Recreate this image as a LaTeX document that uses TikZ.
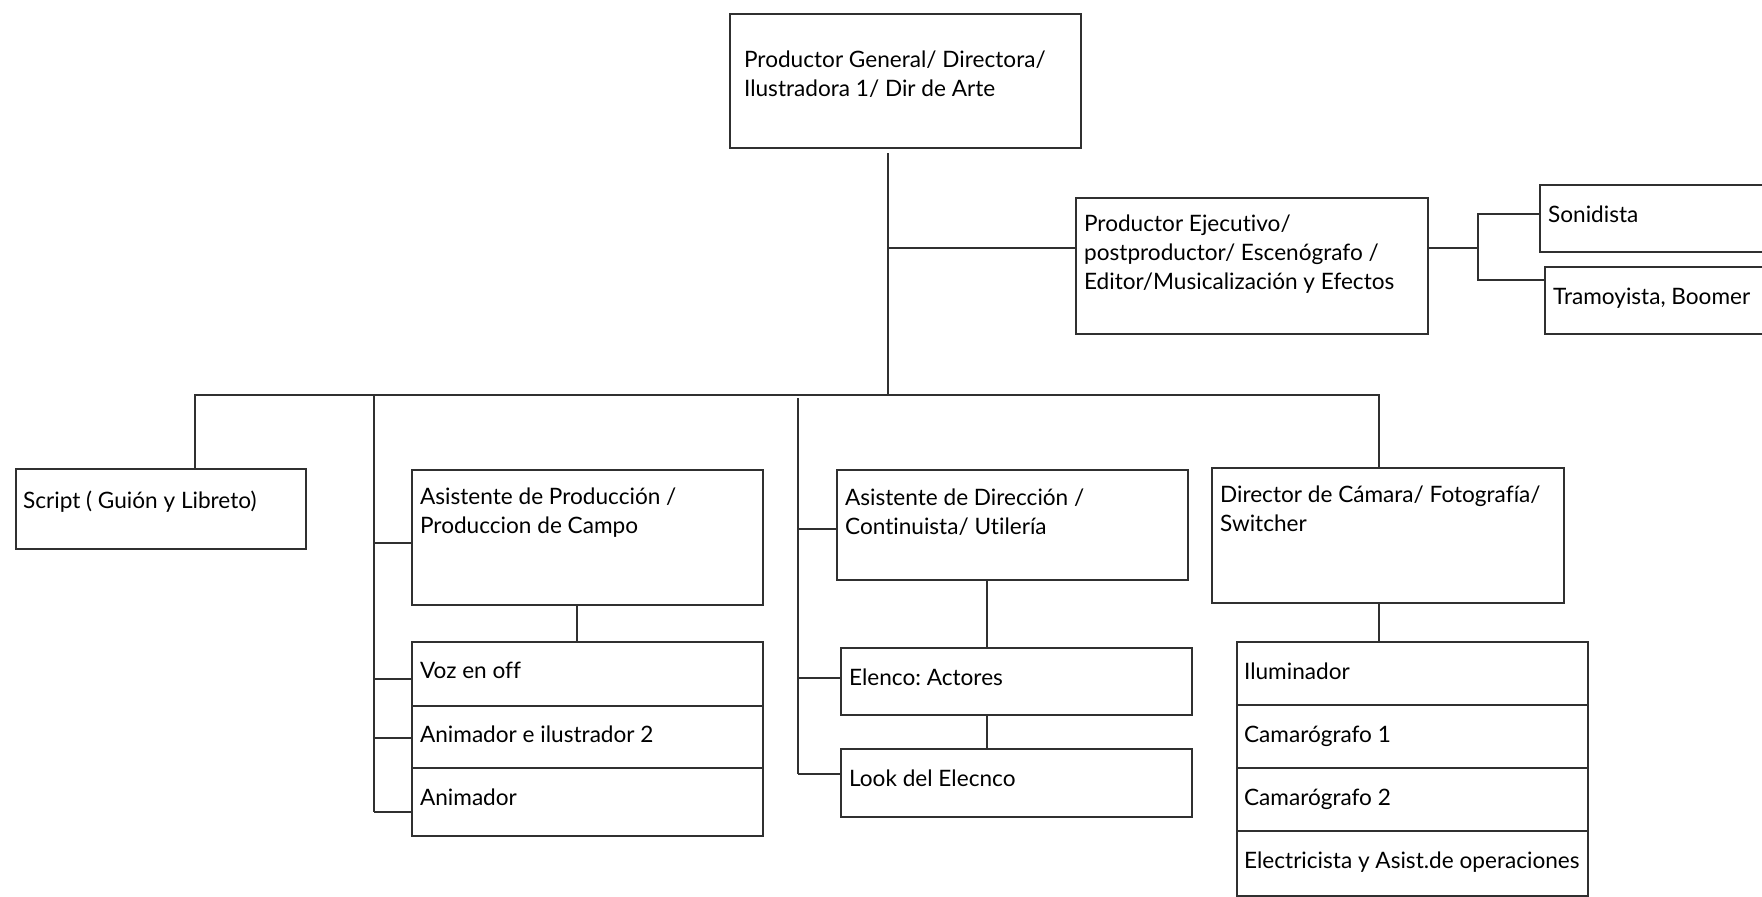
\documentclass[tikz,border=0pt]{standalone}
\usepackage{fontspec}
\setmainfont{Lato}[Ligatures=NoCommon]
\usetikzlibrary{positioning}
\definecolor{linegray}{HTML}{303030}
\frenchspacing

\begin{document}
\begin{tikzpicture}[x=0.5pt,y=-0.5pt,line width=1.1pt,color=linegray,
    unit/.style={draw,rectangle,inner sep=0pt,anchor=north west},
    lbl/.style={inner sep=0pt,align=left,text=black,
      font=\fontsize{11.3}{14.5}\selectfont,execute at begin node=\strut}]
  \path[use as bounding box,clip] (0,0) rectangle (1762,896);

  % top level
  \node[unit,minimum width=175.5pt,minimum height=67pt] (prod) at (729,13) {};
  \node[lbl,below right=18.35pt and 7pt of prod.north west] (prod-t)
    {Productor General/ Directora/\\Ilustradora 1/ Dir de Arte};

  \node[unit,minimum width=176pt,minimum height=68pt] (exec) at (1075,197) {};
  \node[lbl,below right=8.6pt and 4pt of exec.north west] (exec-t)
    {Productor Ejecutivo/\\postproductor/ Escenógrafo /\\Editor/Musicalización y Efectos};

  \node[unit,minimum width=118pt,minimum height=33.5pt] (son) at (1539,184) {};
  \node[lbl,below right=8.6pt and 4pt of son.north west] (son-t) {Sonidista};
  \node[unit,minimum width=115.5pt,minimum height=33.5pt] (tram) at (1544,266) {};
  \node[lbl,below right=8.6pt and 4pt of tram.north west] (tram-t) {Tramoyista, Boomer};

  % second level
  \node[unit,minimum width=145pt,minimum height=40pt] (script) at (15,468) {};
  \node[lbl,below right=9.6pt and 3.5pt of script.north west] (script-t) {Script ( Guión y Libreto)};

  \node[unit,minimum width=175.5pt,minimum height=67.5pt] (asp) at (411,469) {};
  \node[lbl,below right=9pt and 4pt of asp.north west] (asp-t)
    {Asistente de Producción /\\Produccion de Campo};
  \node[unit,minimum width=175.5pt,minimum height=32pt] (voz) at (411,641) {};
  \node[unit,minimum width=175.5pt,minimum height=31pt] (anim2) at (411,705) {};
  \node[unit,minimum width=175.5pt,minimum height=34pt] (anim) at (411,767) {};
  \node[lbl,below right=7.9pt and 4pt of voz.north west] (voz-t) {Voz en off};
  \node[lbl,below right=7.9pt and 4pt of anim2.north west] (anim2-t) {Animador e ilustrador 2};
  \node[lbl,below right=8.4pt and 4pt of anim.north west] (anim-t) {Animador};

  \node[unit,minimum width=175.5pt,minimum height=55pt] (asd) at (836,469) {};
  \node[lbl,below right=9.3pt and 4pt of asd.north west] (asd-t)
    {Asistente de Dirección /\\Continuista/ Utilería};
  \node[unit,minimum width=175.5pt,minimum height=33.5pt] (elenco) at (840,647) {};
  \node[lbl,below right=8.4pt and 4pt of elenco.north west] (elenco-t) {Elenco: Actores};
  \node[unit,minimum width=175.5pt,minimum height=34pt] (look) at (840,748) {};
  \node[lbl,below right=8.4pt and 4pt of look.north west] (look-t) {Look del Elecnco};

  \node[unit,minimum width=176pt,minimum height=67.5pt] (dircam) at (1211,467) {};
  \node[lbl,below right=8.9pt and 4pt of dircam.north west] (dircam-t)
    {Director de Cámara/ Fotografía/\\Switcher};
  \foreach \n/\y/\h/\t in {ilum/641/31.5/Iluminador,cam1/704/31.5/Camarógrafo 1,
      cam2/767/31.5/Camarógrafo 2,elec/830/32.5/Electricista y Asist.de operaciones}{
    \node[unit,minimum width=175.5pt,minimum height=\h pt] (\n) at (1236,\y) {};
    \node[lbl,below right=8.6pt and 3.5pt of \n.north west] (\n-t) {\t};
  }

  % connectors
  \coordinate (jtop) at (888,153);
  \coordinate (jexec) at (888,248);
  \coordinate (jbus) at (888,395);
  \coordinate (busL) at (195,395);
  \coordinate (busR) at (1379,395);
  \draw (jtop) -- (jbus);
  \draw (jexec) -- (jexec -| exec.west);
  \draw (busL |- script.north) -- (busL) -- (busR) -- (busR |- dircam.north);
  \draw (busR |- dircam.south) -- (busR |- ilum.north);

  \coordinate (json) at (1478,248);
  \coordinate (jsonA) at (1478,214);
  \coordinate (jsonB) at (1478,280);
  \draw (json -| exec.east) -- (json);
  \draw (jsonA -| son.west) -- (jsonA) -- (jsonB) -- (jsonB -| tram.west);

  \coordinate (colP) at (374,396);
  \coordinate (colPend) at (374,812);
  \draw (colP) -- (colPend);
  \foreach \y/\n in {543/asp,679/voz,738/anim2,812/anim}
    \draw (374,\y) coordinate (cp) -- (cp -| \n.west);
  \coordinate (jasp) at (577,0);
  \draw (jasp |- asp.south) -- (jasp |- voz.north);

  \coordinate (colD) at (798,398);
  \coordinate (colDend) at (798,774);
  \draw (colD) -- (colDend);
  \foreach \y/\n in {529/asd,678/elenco,774/look}
    \draw (798,\y) coordinate (cd) -- (cd -| \n.west);
  \coordinate (jasd) at (987,0);
  \draw (jasd |- asd.south) -- (jasd |- elenco.north);
  \draw (jasd |- elenco.south) -- (jasd |- look.north);
\end{tikzpicture}
\end{document}
